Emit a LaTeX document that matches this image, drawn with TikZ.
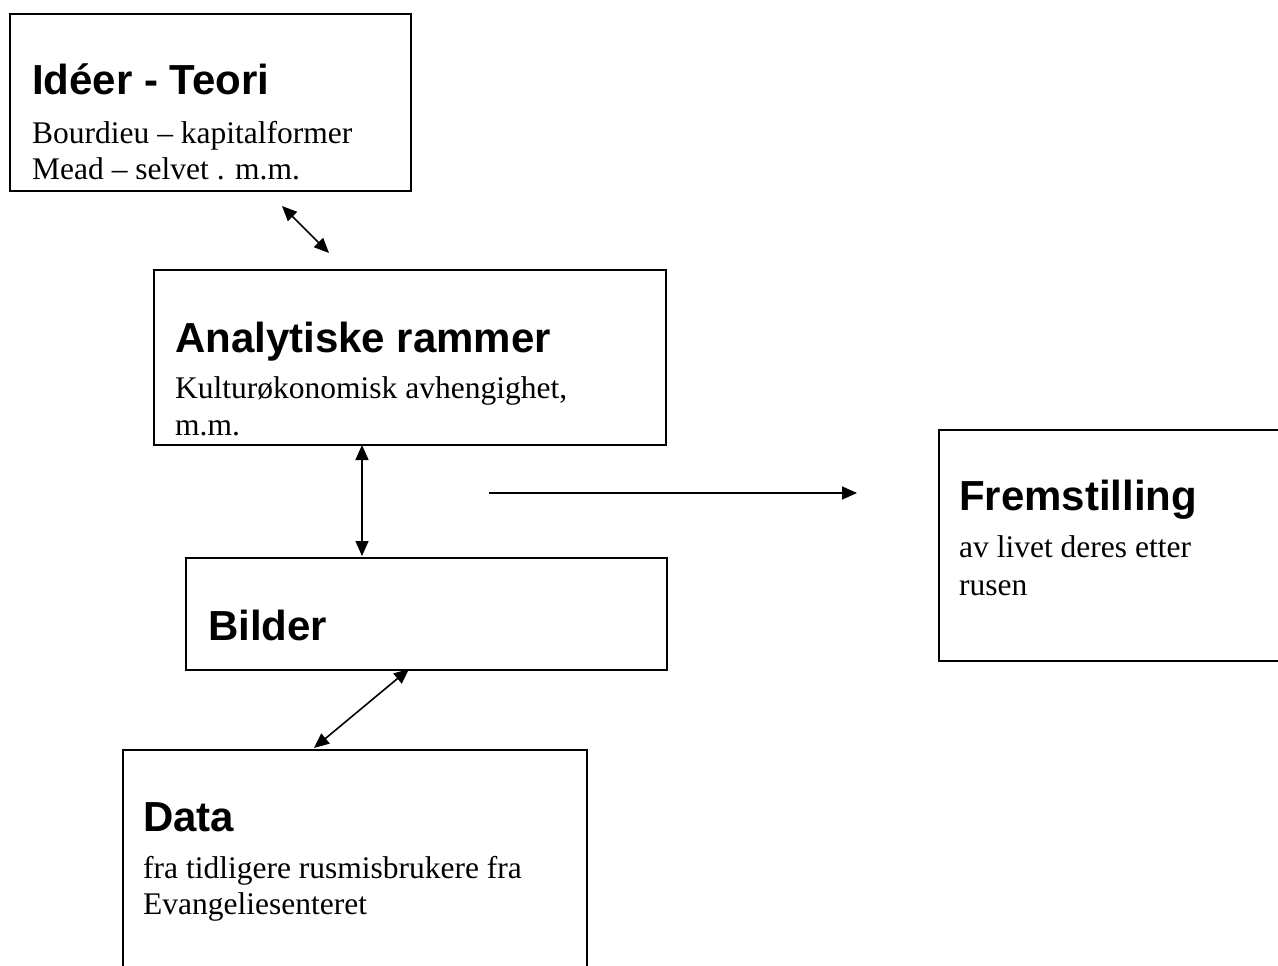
\documentclass[tikz,border=0pt]{standalone}
\usepackage{fontspec}
\setmainfont{Liberation Serif}
\newfontfamily\hdfont{Liberation Sans}
\usetikzlibrary{arrows.meta}
\tikzset{
  box/.style={draw, line width=1.8pt, anchor=north west, inner sep=0pt},
  head/.style={anchor=base west, inner sep=0pt, font=\hdfont\bfseries\fontsize{42}{48}\selectfont},
  body/.style={anchor=base west, inner sep=0pt, font=\fontsize{31.5}{36}\selectfont},
  conn/.style={line width=1.6pt, -{Triangle[length=15pt,width=13pt]}},
  dconn/.style={line width=1.6pt, {Triangle[length=15pt,width=13pt]}-{Triangle[length=15pt,width=13pt]}}
}
\begin{document}
\begin{tikzpicture}[x=1pt,y=-1pt]
\useasboundingbox (0,0) rectangle (1278,966);
\clip (0,0) rectangle (1278,966);
% boxes
\node[box, minimum width=401pt, minimum height=177pt] (ideer) at (9,13) {};
\node[box, minimum width=512pt, minimum height=175pt] (analyt) at (153,269) {};
\node[box, minimum width=481pt, minimum height=112pt] (bilder) at (185,557) {};
\node[box, minimum width=464pt, minimum height=260pt] (data) at (122,749) {};
\node[box, minimum width=400pt, minimum height=231pt] (frem) at (938,429) {};
% texts
\node[head] (t1) at (32,95) {Idéer - Teori};
\begin{scope}
\clip (9,13) rectangle (410,181);
\node[body] (t1a) at (32,143) {Bourdieu – kapitalformer};
\node[body] (t1b) at (32,179) {Mead – selvet . m.m.};
\end{scope}
\node[head] (t2) at (175,352) {Analytiske rammer};
\node[body] (t2a) at (175,398) {Kulturøkonomisk avhengighet,};
\node[body] (t2b) at (175,435) {m.m.};
\node[head] (t3) at (208,640) {Bilder};
\node[head] (t4) at (143,831) {Data};
\node[body] (t4a) at (143,878) {fra tidligere rusmisbrukere fra};
\node[body] (t4b) at (143,914) {Evangeliesenteret};
\node[head] (t5) at (959,510) {Fremstilling};
\node[body] (t5a) at (959,557) {av livet deres etter};
\node[body] (t5b) at (959,595) {rusen};
% connector ends
\coordinate (a1s) at (282,206);
\coordinate (a1e) at (329,253);
\coordinate (a2s) at (362,445);
\coordinate (a2e) at (362,556);
\coordinate (a3s) at (489,493);
\coordinate (a3e) at (857,493);
\coordinate (a4s) at (409,669);
\coordinate (a4e) at (314,748);
% connectors
\draw[dconn] (a1s) -- (a1e);
\draw[dconn] (a2s) -- (a2e);
\draw[conn] (a3s) -- (a3e);
\draw[dconn] (a4s) -- (a4e);
\end{tikzpicture}
\end{document}
